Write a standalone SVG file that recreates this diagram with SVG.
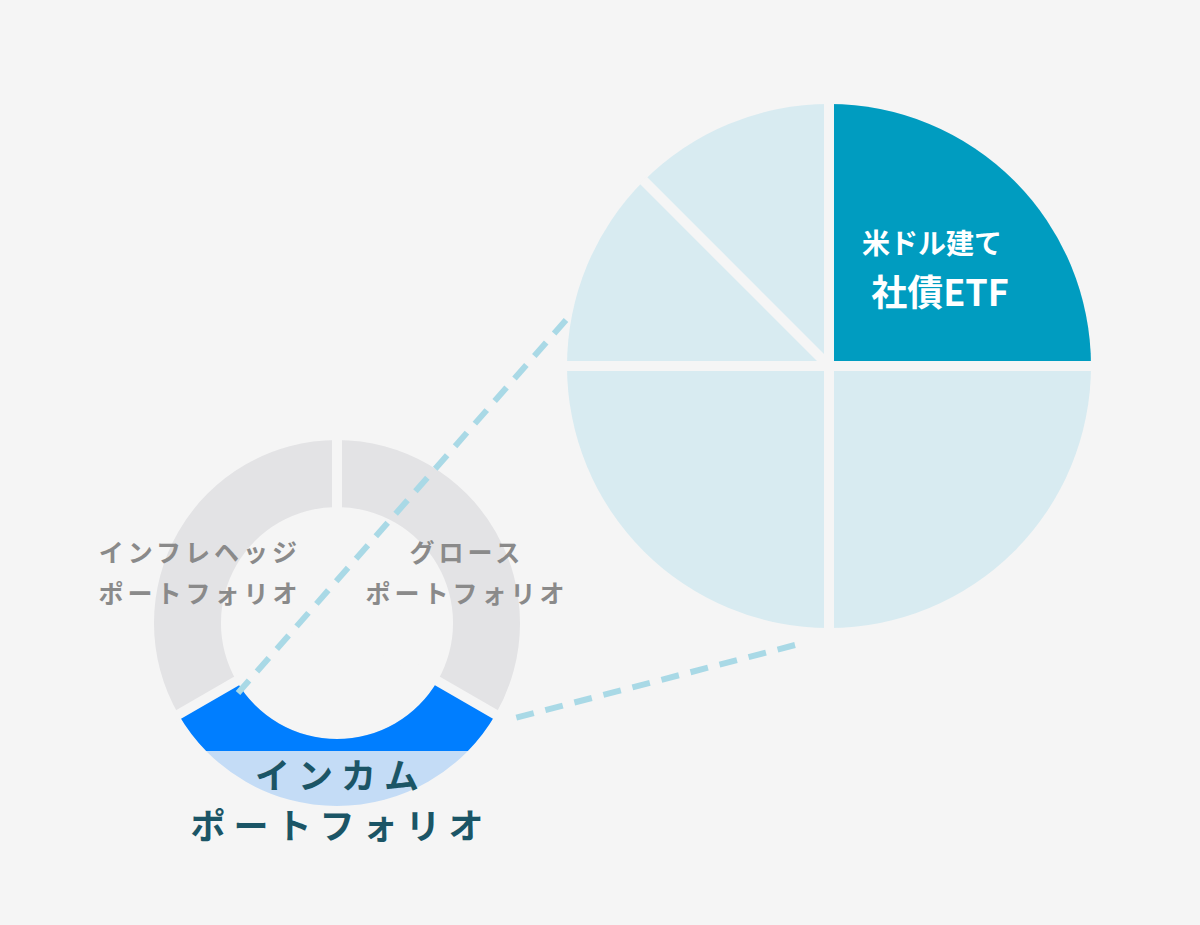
<svg xmlns="http://www.w3.org/2000/svg" width="1200" height="925" viewBox="0 0 1200 925">
<defs>
<style>
.gap{stroke:#f5f5f5;stroke-width:10;fill:none}
.gray{fill:#e3e3e5}
.lbl{font-family:"Noto Sans CJK JP","Noto Sans",sans-serif;font-weight:bold;text-anchor:middle}
.g{fill:#8a8a8a;font-size:25px;letter-spacing:4px}
.big{fill:#1b5566;font-size:35px;letter-spacing:8px}
.dash{stroke:#a9d9e6;stroke-width:6;stroke-dasharray:18 12;fill:none}
</style>
<clipPath id="top"><rect x="0" y="0" width="1200" height="751"/></clipPath>
</defs>
<rect width="1200" height="925" fill="#f5f5f5"/>
<g id="pie">
<circle cx="829" cy="366" r="262" fill="#d8ebf1"/>
<path d="M829,366 L829,104 A262,262 0 0 1 1091,366 Z" fill="#009cc0"/>
<path class="gap" d="M560,366 H1095 M829,100 V632 M829,366 L643,180"/>
<text class="lbl" x="932" y="254" fill="#fff" font-size="28">米ドル建て</text>
<text class="lbl" x="940" y="306" fill="#fff" font-size="36">社債ETF</text>
</g>
<g id="donut">
<path id="growth" class="gray" d="M337,440 A183,183 0 0 1 495.5,714.5 L437.5,681 A116,116 0 0 0 337,507 Z"/>
<path id="inflation" class="gray" d="M178.5,714.5 A183,183 0 0 1 337,440 L337,507 A116,116 0 0 0 236.5,681 Z"/>
<g id="income">
<path d="M495.5,714.5 A183,183 0 0 1 178.5,714.5 L236.5,681 A116,116 0 0 0 437.5,681 Z" fill="#c4dcf6"/>
<path clip-path="url(#top)" d="M495.5,714.5 A183,183 0 0 1 178.5,714.5 L236.5,681 A116,116 0 0 0 437.5,681 Z" fill="#007eff"/>
</g>
<path class="gap" d="M337,623 V430 M337,623 L505,720 M337,623 L169,720"/>
</g>
<g id="connectors">
<path class="dash" d="M566,320 L238,693"/>
<path class="dash" d="M795,645 L515,718"/>
</g>
<text class="lbl g" x="200" y="562">インフレヘッジ</text>
<text class="lbl g" x="200" y="603">ポートフォリオ</text>
<text class="lbl g" x="467" y="562">グロース</text>
<text class="lbl g" x="467" y="603">ポートフォリオ</text>
<text class="lbl big" x="341" y="789">インカム</text>
<text class="lbl big" x="341" y="839">ポートフォリオ</text>
</svg>
